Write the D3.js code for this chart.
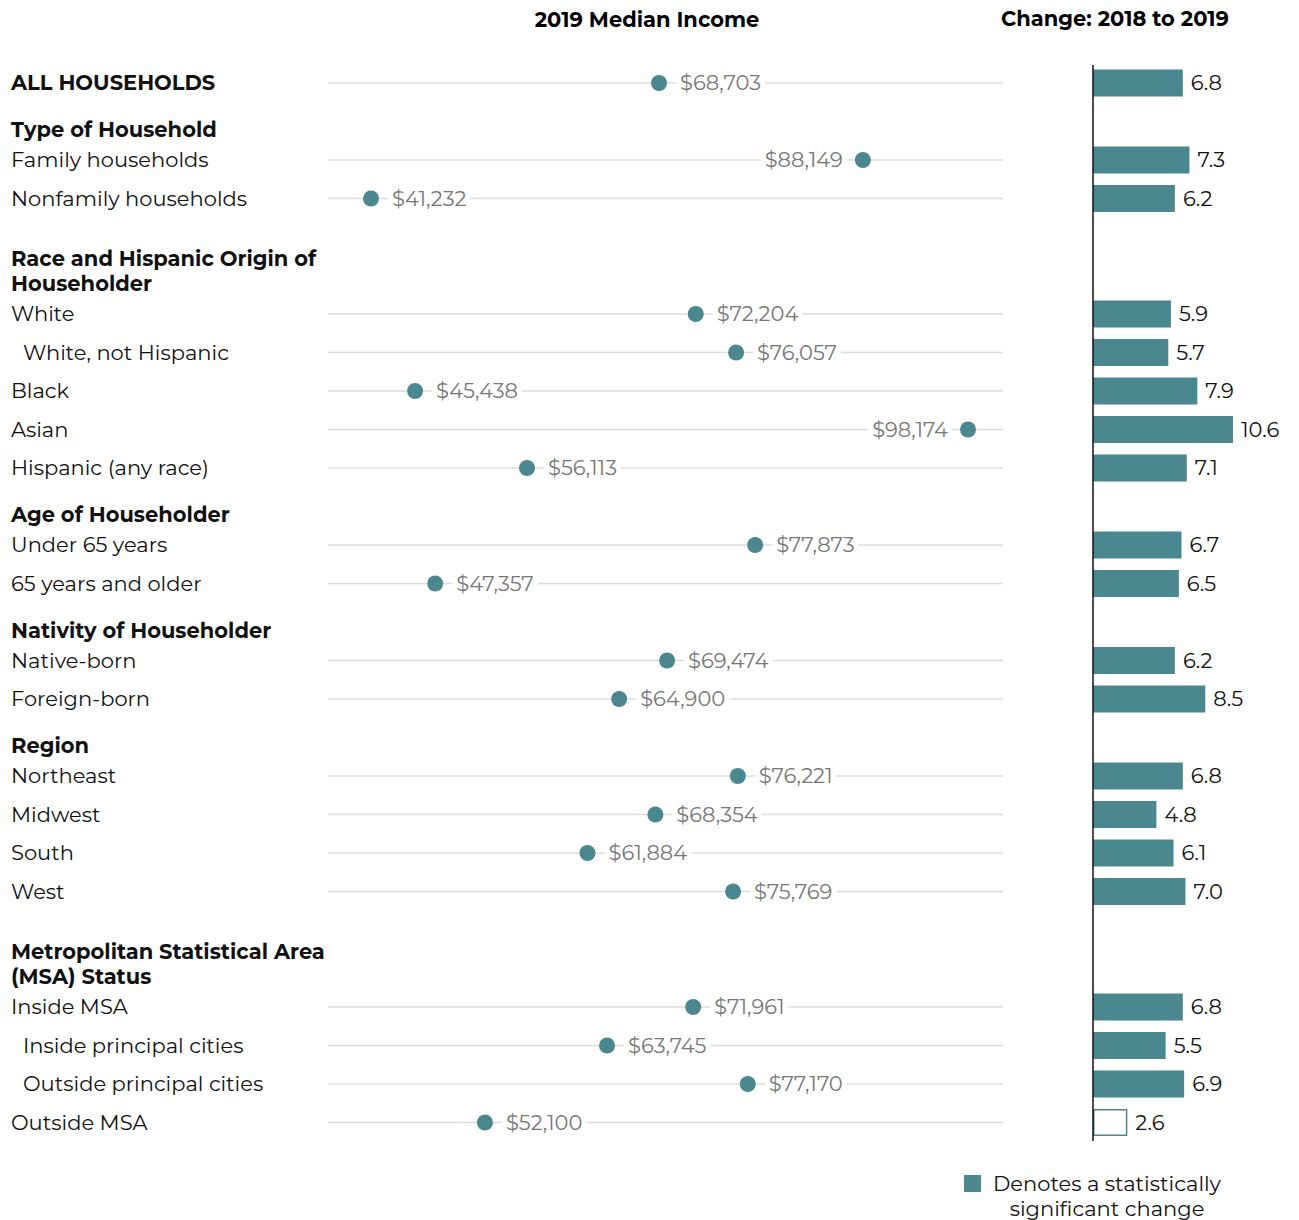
<!DOCTYPE html>
<html><head><meta charset="utf-8">
<script src="https://cdn.jsdelivr.net/npm/d3@7"></script>
<style>body{margin:0;background:#fff}svg{display:block}</style>
</head><body><svg id="c" width="1299" height="1220"></svg>
<script>
// rows: label, slot index, income, change, significant, indent
const rowLabels = ["ALL HOUSEHOLDS","Family households","Nonfamily households","White","White, not Hispanic","Black","Asian","Hispanic (any race)","Under 65 years","65 years and older","Native-born","Foreign-born","Northeast","Midwest","South","West","Inside MSA","Inside principal cities","Outside principal cities","Outside MSA"];
const rowSlots = [0,2,3,6,7,8,9,10,12,13,15,16,18,19,20,21,24,25,26,27];
const incomes = [68703,88149,41232,72204,76057,45438,98174,56113,77873,47357,69474,64900,76221,68354,61884,75769,71961,63745,77170,52100];
const changes = [6.8,7.3,6.2,5.9,5.7,7.9,10.6,7.1,6.7,6.5,6.2,8.5,6.8,4.8,6.1,7.0,6.8,5.5,6.9,2.6];
const significant = [true,true,true,true,true,true,true,true,true,true,true,true,true,true,true,true,true,true,true,false];
const indented = [false,false,false,false,true,false,false,false,false,false,false,false,false,false,false,false,false,true,true,false];
const labelLeft = [false,true,false,false,false,false,true,false,false,false,false,false,false,false,false,false,false,false,false,false];
const headers = [["Type of Household"],["Race and Hispanic Origin of","Householder"],["Age of Householder"],["Nativity of Householder"],["Region"],["Metropolitan Statistical Area","(MSA) Status"]];
const headerSlots = [1,5,11,14,17,23];

const teal = "#4b878e";
const font = "Montserrat, 'Open Sans', sans-serif";
const fs = 21;
const svg = d3.select("#c");

const y = d3.scaleLinear().domain([0,27]).range([83,1122.5]);
const x = d3.scaleLinear().domain([37131,101512]).range([328,1003]);
const xb = d3.scaleLinear().domain([0,10.6]).range([1093,1233]);
const fmt = d => "$" + d3.format(",")(d);
const dy = 1.5;

// titles
svg.append("text").attr("x",647).attr("y",20+dy).attr("text-anchor","middle").attr("dominant-baseline","middle")
  .attr("font-family",font).attr("font-weight","bold").attr("font-size",fs).text("2019 Median Income");
svg.append("text").attr("x",1115).attr("y",19+dy).attr("text-anchor","middle").attr("dominant-baseline","middle")
  .attr("font-family",font).attr("font-weight","bold").attr("font-size",fs).text("Change: 2018 to 2019");

// row labels
const rows = rowLabels.map((l,i)=>({label:l,slot:rowSlots[i],v:incomes[i],c:changes[i],sig:significant[i],ind:indented[i],left:labelLeft[i]}));
svg.append("g").selectAll("text").data(rows).join("text")
  .attr("x",d=>d.ind?23:11).attr("y",d=>y(d.slot)+dy).attr("dominant-baseline","middle")
  .attr("font-family",font).attr("font-size",fs).attr("font-weight",(d,i)=>i===0?"bold":"normal")
  .attr("fill","#111").text(d=>d.label);

// headers
headers.forEach((lines,i)=>{
  const last = y(headerSlots[i]) + 8.5 + dy;
  lines.forEach((t,j)=>{
    svg.append("text").attr("x",11).attr("y",last-(lines.length-1-j)*25).attr("dominant-baseline","middle")
      .attr("font-family",font).attr("font-size",fs).attr("font-weight","bold").attr("fill","#111").text(t);
  });
});

// grid lines
svg.append("g").selectAll("line").data(rows).join("line")
  .attr("x1",x.range()[0]).attr("x2",x.range()[1]).attr("y1",d=>y(d.slot)).attr("y2",d=>y(d.slot))
  .attr("stroke","#dcdcdc").attr("stroke-width",1.5);

// value labels with white backgrounds
const lg = svg.append("g");
rows.forEach(d=>{
  const cx = x(d.v), cy = y(d.slot);
  const t = lg.append("text").attr("y",cy+dy).attr("dominant-baseline","middle")
    .attr("font-family",font).attr("font-size",fs).attr("fill","#777").text(fmt(d.v));
  if(d.left){ t.attr("x",cx-20).attr("text-anchor","end"); } else { t.attr("x",cx+21); }
  const bb = t.node().getBBox();
  lg.insert("rect","text").attr("x",bb.x-4).attr("y",bb.y).attr("width",bb.width+8).attr("height",bb.height).attr("fill","#fff");
});
lg.selectAll("text").raise();

svg.append("g").selectAll("circle").data(rows).join("circle")
  .attr("cx",d=>x(d.v)).attr("cy",d=>y(d.slot)).attr("r",8).attr("fill",teal);

// bars
svg.append("g").selectAll("rect").data(rows).join("rect")
  .attr("x",d=>xb(0)+(d.sig?0:0.75)).attr("y",d=>y(d.slot)-13.5+(d.sig?0:0.75))
  .attr("width",d=>xb(d.c)-xb(0)-(d.sig?0:1.5)).attr("height",d=>d.sig?27:25.5)
  .attr("fill",d=>d.sig?teal:"#fff").attr("stroke",d=>d.sig?"none":teal).attr("stroke-width",1.5);
svg.append("g").selectAll("text").data(rows).join("text")
  .attr("x",d=>xb(d.c)+8).attr("y",d=>y(d.slot)+dy).attr("dominant-baseline","middle")
  .attr("font-family",font).attr("font-size",fs).attr("fill","#111").text(d=>d.c.toFixed(1));

svg.append("line").attr("x1",xb(0)).attr("x2",xb(0)).attr("y1",65).attr("y2",1141).attr("stroke","#111").attr("stroke-width",1.5);

// legend
svg.append("rect").attr("x",964).attr("y",1175).attr("width",17).attr("height",17).attr("fill",teal);
svg.append("text").attr("x",1107).attr("y",1184+dy).attr("text-anchor","middle").attr("dominant-baseline","middle")
  .attr("font-family",font).attr("font-size",fs).attr("fill","#111").text("Denotes a statistically");
svg.append("text").attr("x",1107).attr("y",1209+dy).attr("text-anchor","middle").attr("dominant-baseline","middle")
  .attr("font-family",font).attr("font-size",fs).attr("fill","#111").text("significant change");
</script></body></html>
